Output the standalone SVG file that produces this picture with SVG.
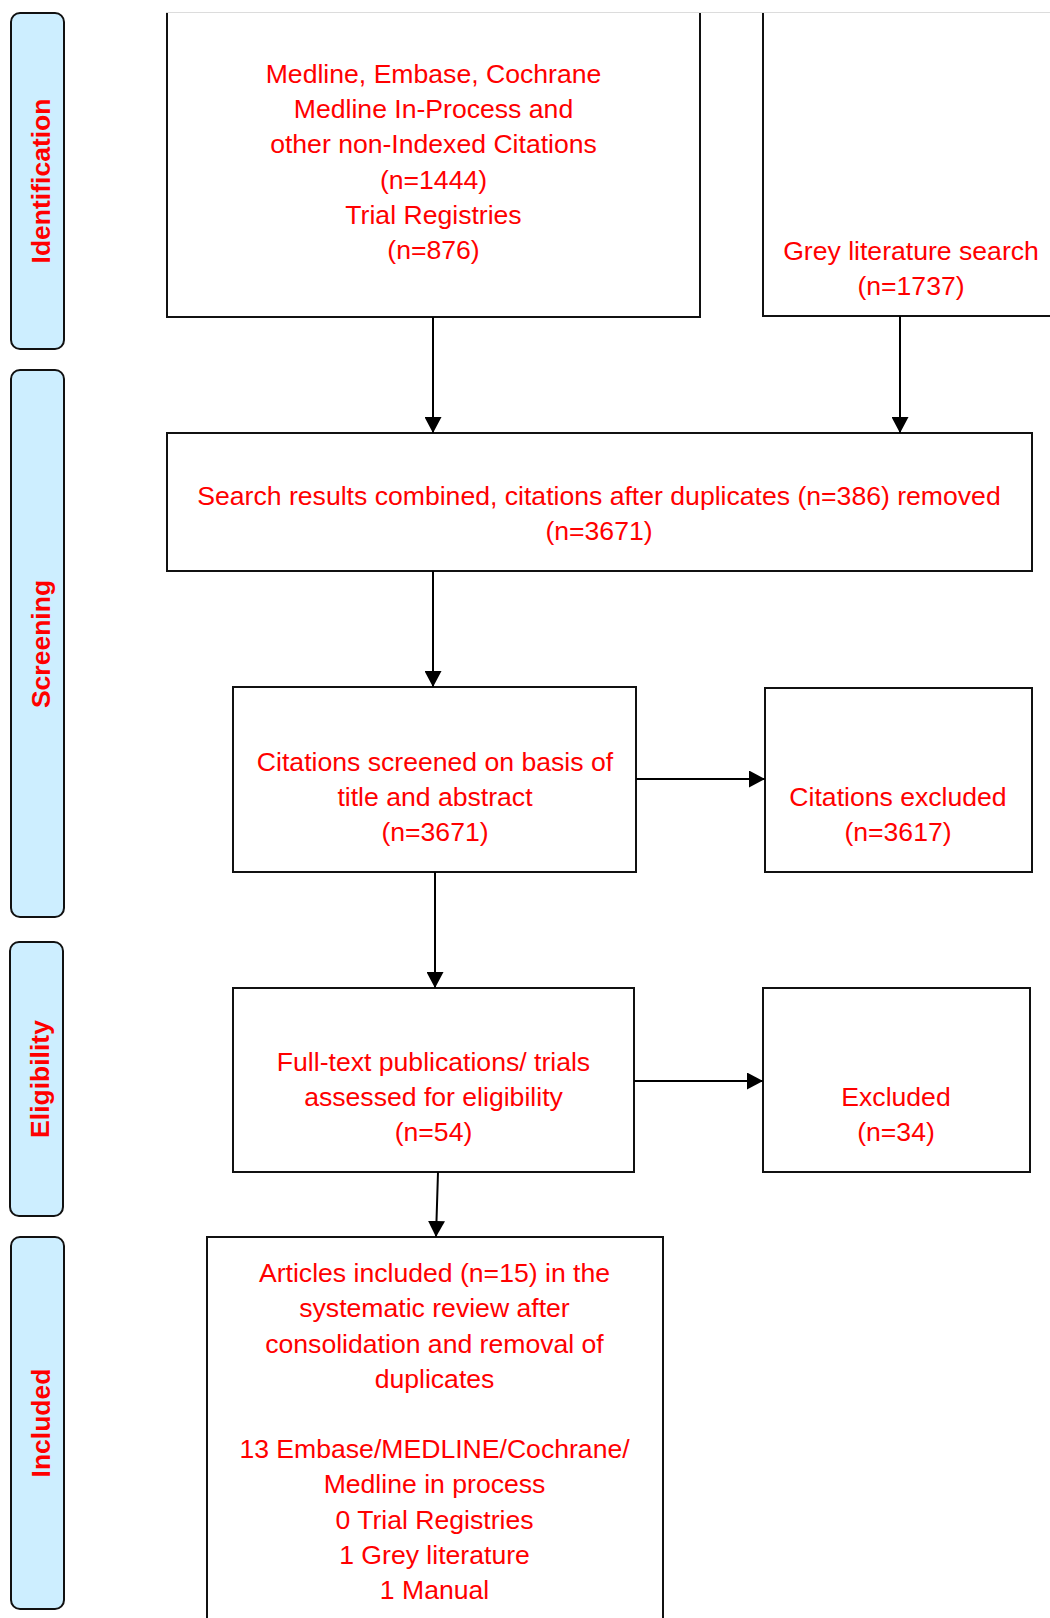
<svg xmlns="http://www.w3.org/2000/svg" width="1050" height="1618" viewBox="0 0 1050 1618">
<style>
.pill{fill:#cdeeff;stroke:#111;stroke-width:2}
.box{fill:#fff;stroke:#111;stroke-width:2}
.t{font-family:"Liberation Sans",Arial,sans-serif;font-size:26.6px;fill:#ff0000;text-anchor:middle}
.pt{font-family:"Liberation Sans",Arial,sans-serif;font-size:26.5px;font-weight:bold;fill:#ff0000;text-anchor:middle}
.c{stroke:#000;stroke-width:2;fill:none;marker-end:url(#ah)}
</style>
<defs>
<marker id="ah" markerUnits="userSpaceOnUse" markerWidth="17" markerHeight="17" refX="16" refY="8.5" orient="auto">
<path d="M0,0 L16,8.5 L0,17 z" fill="#000"/>
</marker>
</defs>
<rect width="1050" height="1618" fill="#fff"/>
<line x1="166" y1="12.5" x2="1050" y2="12.5" stroke="#dcdcdc" stroke-width="1"/>

<g id="phase-identification">
<rect class="pill" x="11" y="13" width="53" height="336" rx="9"/>
<text class="pt" transform="translate(50,181) rotate(-90)">Identification</text>
</g>
<g id="phase-screening">
<rect class="pill" x="11" y="370" width="53" height="547" rx="9"/>
<text class="pt" transform="translate(50,644) rotate(-90)">Screening</text>
</g>
<g id="phase-eligibility">
<rect class="pill" x="10" y="942" width="53" height="274" rx="9"/>
<text class="pt" transform="translate(49,1079) rotate(-90)">Eligibility</text>
</g>
<g id="phase-included">
<rect class="pill" x="11" y="1237" width="53" height="372" rx="9"/>
<text class="pt" transform="translate(50,1423) rotate(-90)">Included</text>
</g>

<g id="node-databases">
<path class="box" d="M167,13 V317 H700 V13"/>
<text class="t" x="433.5" y="82.5">Medline, Embase, Cochrane</text>
<text class="t" x="433.5" y="117.5">Medline In-Process and</text>
<text class="t" x="433.5" y="153">other non-Indexed Citations</text>
<text class="t" x="433.5" y="188.5">(n=1444)</text>
<text class="t" x="433.5" y="224">Trial Registries</text>
<text class="t" x="433.5" y="259">(n=876)</text>
</g>
<g id="node-grey">
<path class="box" d="M763,13 V316 H1060"/>
<text class="t" x="911" y="260">Grey literature search</text>
<text class="t" x="911" y="295">(n=1737)</text>
</g>
<g id="node-combined">
<rect class="box" x="167" y="433" width="865" height="138"/>
<text class="t" x="599" y="504.5">Search results combined, citations after duplicates (n=386) removed</text>
<text class="t" x="599" y="539.5">(n=3671)</text>
</g>
<g id="node-screened">
<rect class="box" x="233" y="687" width="403" height="185"/>
<text class="t" x="435" y="771">Citations screened on basis of</text>
<text class="t" x="435" y="806">title and abstract</text>
<text class="t" x="435" y="841">(n=3671)</text>
</g>
<g id="node-cit-excluded">
<rect class="box" x="765" y="688" width="267" height="184"/>
<text class="t" x="898" y="806">Citations excluded</text>
<text class="t" x="898" y="841">(n=3617)</text>
</g>
<g id="node-fulltext">
<rect class="box" x="233" y="988" width="401" height="184"/>
<text class="t" x="433.5" y="1070.5">Full-text publications/ trials</text>
<text class="t" x="433.5" y="1105.5">assessed for eligibility</text>
<text class="t" x="433.5" y="1141">(n=54)</text>
</g>
<g id="node-excluded">
<rect class="box" x="763" y="988" width="267" height="184"/>
<text class="t" x="896" y="1106">Excluded</text>
<text class="t" x="896" y="1141">(n=34)</text>
</g>
<g id="node-included">
<rect class="box" x="207" y="1237" width="456" height="400"/>
<text class="t" x="434.5" y="1282">Articles included (n=15) in the</text>
<text class="t" x="434.5" y="1317">systematic review after</text>
<text class="t" x="434.5" y="1352.5">consolidation and removal of</text>
<text class="t" x="434.5" y="1387.5">duplicates</text>
<text class="t" x="434.5" y="1458">13 Embase/MEDLINE/Cochrane/</text>
<text class="t" x="434.5" y="1493">Medline in process</text>
<text class="t" x="434.5" y="1528.5">0 Trial Registries</text>
<text class="t" x="434.5" y="1564">1 Grey literature</text>
<text class="t" x="434.5" y="1599">1 Manual</text>
</g>

<g id="connectors">
<line class="c" x1="433" y1="317" x2="433" y2="433"/>
<line class="c" x1="900" y1="316" x2="900" y2="433"/>
<line class="c" x1="433" y1="571" x2="433" y2="687"/>
<line class="c" x1="636" y1="779" x2="765" y2="779"/>
<line class="c" x1="435" y1="872" x2="435" y2="988"/>
<line class="c" x1="634" y1="1081" x2="763" y2="1081"/>
<line class="c" x1="438" y1="1172" x2="436" y2="1237"/>
</g>
</svg>
